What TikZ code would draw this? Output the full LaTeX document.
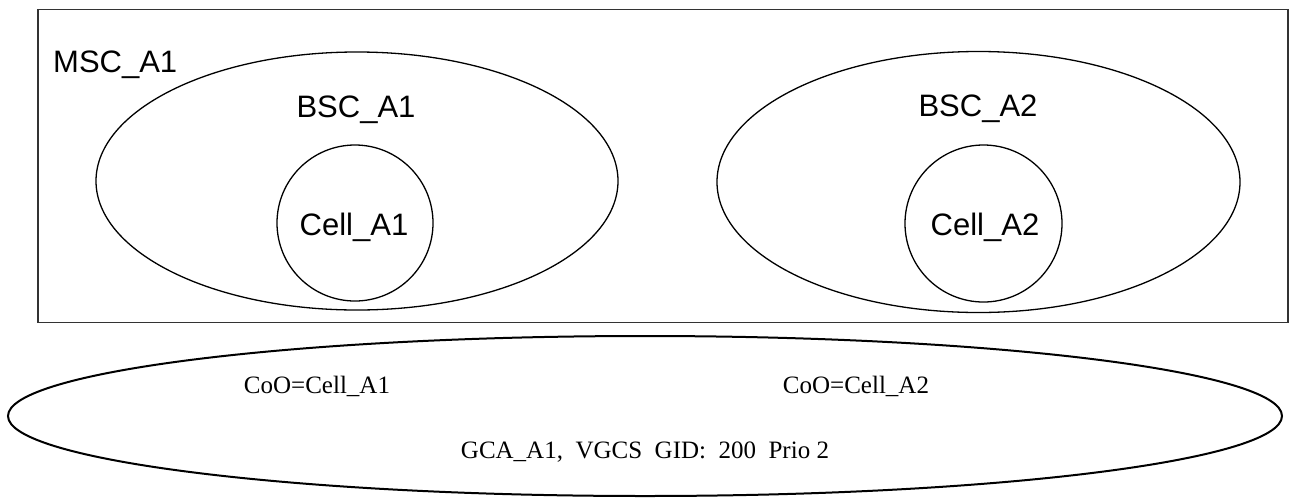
\documentclass[tikz,border=0pt]{standalone}
\usepackage{fontspec}
\setmainfont{Liberation Serif}
\newfontfamily\arialf{Liberation Sans}
\usetikzlibrary{shapes.geometric}
\tikzset{
  shapeline/.style={draw=black, line width=1.3pt, inner sep=0pt},
  sanslabel/.style={font=\arialf\fontsize{31}{37}\selectfont, inner sep=0pt, anchor=base},
  seriflabel/.style={font=\fontsize{25}{30}\selectfont, inner sep=0pt, anchor=base},
}
\begin{document}
\begin{tikzpicture}[x=1pt,y=-1pt]
\useasboundingbox (0,0) rectangle (1296,499);
\node[draw=black!80, line width=1.8pt, rectangle, minimum width=1250pt, minimum height=313pt, inner sep=0pt] (msc) at (663,166) {};
\node[sanslabel, anchor=base west] (msclbl) at (53,72) {MSC\_A1};
\node[shapeline, ellipse, minimum width=522pt, minimum height=258pt] (bsc1) at (357,181) {};
\node[shapeline, ellipse, minimum width=523pt, minimum height=261pt] (bsc2) at (978.5,182) {};
\node[sanslabel] (bsc1lbl) at (356,117) {BSC\_A1};
\node[sanslabel] (bsc2lbl) at (978,116) {BSC\_A2};
\node[shapeline, circle, minimum size=156pt] (cell1) at (355,223) {};
\node[shapeline, circle, minimum size=157pt] (cell2) at (983.5,223.5) {};
\node[sanslabel] (cell1lbl) at (354,235) {Cell\_A1};
\node[sanslabel] (cell2lbl) at (985,235) {Cell\_A2};
\node[draw=black, line width=2pt, ellipse, minimum width=1274pt, minimum height=160pt, inner sep=0pt] (gca) at (645,416) {};
\node[seriflabel] (coo1) at (317,393) {CoO=Cell\_A1};
\node[seriflabel] (coo2) at (856,393) {CoO=Cell\_A2};
\node[seriflabel] (gcalbl) at (645,458) {GCA\_A1,\ \ VGCS\ \ GID:\ \ 200\ \ Prio 2};
\end{tikzpicture}
\end{document}
